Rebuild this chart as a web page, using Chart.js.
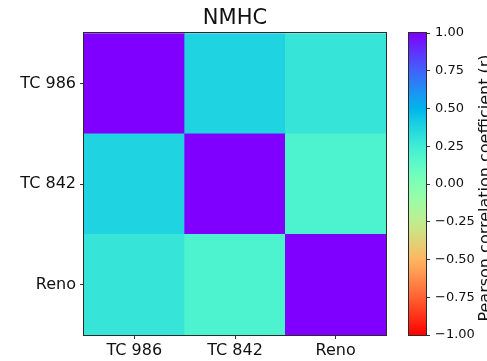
<!DOCTYPE html>
<html>
<head>
<meta charset="utf-8">
<script src="https://cdn.jsdelivr.net/npm/chart.js@4/dist/chart.umd.min.js"></script>
<style>
  body { margin: 0; background: #fff; }
  #heat { position: absolute; left: 0; top: 0; }
  #cbar { position: absolute; left: 400px; top: 0; }
</style>
</head>
<body>
<canvas id="heat" width="400" height="361"></canvas>
<canvas id="cbar" width="87" height="361"></canvas>
<script>
// ===== data =====
const stations = ['TC 986', 'TC 842', 'Reno'];
const rowTC986 = [1.00, 0.38, 0.29];
const rowTC842 = [0.38, 1.00, 0.20];
const rowReno = [0.29, 0.20, 1.00];
const cbTicks = [-1, -0.75, -0.5, -0.25, 0, 0.25, 0.5, 0.75, 1];
const cbRange = [-1, 1];

// rows from bottom to top (stack order)
const rows = [rowReno, rowTC842, rowTC986];

Chart.defaults.font.family = 'DejaVu Sans';
Chart.defaults.color = '#111';

// matplotlib 'rainbow' reversed, r in [-1, 1]
function rainbowR(v) {
  const x = Math.min(1, Math.max(0, (1 - v) / 2));
  const clip = a => Math.round(255 * Math.min(1, Math.max(0, a)));
  const r = clip(Math.abs(2 * x - 0.5));
  const g = clip(Math.sin(Math.PI * x));
  const b = clip(Math.cos(Math.PI * x / 2));
  return `rgb(${r},${g},${b})`;
}

function fmt(v) {
  const s = Math.abs(v).toFixed(2);
  return v < 0 ? '\u2212' + s : s;
}

// frame around plot area
const frame = {
  id: 'frame',
  afterDatasetsDraw(chart) {
    const { ctx, chartArea: a } = chart;
    ctx.save();
    ctx.strokeStyle = '#2b2b2b';
    ctx.lineWidth = 1;
    ctx.strokeRect(Math.round(a.left) - 0.5, Math.round(a.top) - 0.5,
      Math.round(a.right - a.left) + 1, Math.round(a.bottom - a.top) + 1);
    ctx.restore();
  }
};

// ===== heatmap =====
new Chart(document.getElementById('heat'), {
  type: 'bar',
  data: {
    labels: stations,
    datasets: rows.map(r => ({
      data: r.map(() => 1),
      backgroundColor: r.map(rainbowR),
      borderWidth: 0,
      barPercentage: 1,
      categoryPercentage: 1
    }))
  },
  options: {
    responsive: false,
    animation: false,
    devicePixelRatio: 1,
    layout: { padding: { left: 0, right: 14, top: 0, bottom: 0 } },
    plugins: {
      legend: { display: false },
      tooltip: { enabled: false },
      title: {
        display: true,
        text: 'NMHC',
        fullSize: false,
        color: '#111',
        font: { size: 21, weight: 'normal' },
        padding: { top: 6, bottom: 2 }
      }
    },
    scales: {
      x: {
        stacked: true,
        border: { display: false },
        grid: { offset: false, drawOnChartArea: false, tickLength: 4, color: '#333' },
        ticks: { font: { size: 16 }, padding: 2, maxRotation: 0 },
        afterFit: s => { s.height = 26; }
      },
      y: {
        stacked: true,
        min: 0,
        max: 3,
        border: { display: false },
        grid: { drawOnChartArea: false, tickLength: 4, color: '#333' },
        afterBuildTicks: s => { s.ticks = [0.5, 1.5, 2.5].map(v => ({ value: v })); },
        ticks: {
          font: { size: 16 },
          padding: 4,
          callback: v => stations[2 - Math.floor(v)]
        },
        afterFit: s => { s.width = 84; }
      }
    }
  },
  plugins: [frame]
});

// ===== colorbar =====
const cbLabel = {
  id: 'cbLabel',
  afterDraw(chart) {
    const { ctx, chartArea: a } = chart;
    ctx.save();
    ctx.translate(90, (a.top + a.bottom) / 2 + 4);
    ctx.rotate(-Math.PI / 2);
    ctx.font = '16px "DejaVu Sans"';
    ctx.fillStyle = '#111';
    ctx.textAlign = 'center';
    ctx.textBaseline = 'alphabetic';
    ctx.fillText('Pearson correlation coefficient (r)', 0, 0);
    ctx.restore();
  }
};

new Chart(document.getElementById('cbar'), {
  type: 'bar',
  data: {
    labels: [''],
    datasets: [{
      data: [cbRange],
      borderWidth: 0,
      barPercentage: 1,
      categoryPercentage: 1,
      backgroundColor: c => {
        const chart = c.chart;
        if (!chart.chartArea) return rainbowR(0);
        const y = chart.scales.y;
        const g = chart.ctx.createLinearGradient(0, y.getPixelForValue(cbRange[0]), 0, y.getPixelForValue(cbRange[1]));
        for (let i = 0; i <= 40; i++) {
          g.addColorStop(i / 40, rainbowR(cbRange[0] + (cbRange[1] - cbRange[0]) * i / 40));
        }
        return g;
      }
    }]
  },
  options: {
    responsive: false,
    animation: false,
    devicePixelRatio: 1,
    layout: { padding: { left: 9, right: 0, top: 33, bottom: 26 } },
    plugins: { legend: { display: false }, tooltip: { enabled: false } },
    scales: {
      x: { display: false },
      y: {
        position: 'right',
        min: cbRange[0],
        max: cbRange[1],
        border: { display: false },
        grid: { drawOnChartArea: false, tickLength: 4, color: '#333' },
        afterBuildTicks: s => { s.ticks = cbTicks.map(v => ({ value: v })); },
        ticks: { font: { size: 13 }, padding: 5, callback: v => fmt(v) },
        afterFit: s => { s.width = 61; }
      }
    }
  },
  plugins: [frame, cbLabel]
});
</script>
</body>
</html>
